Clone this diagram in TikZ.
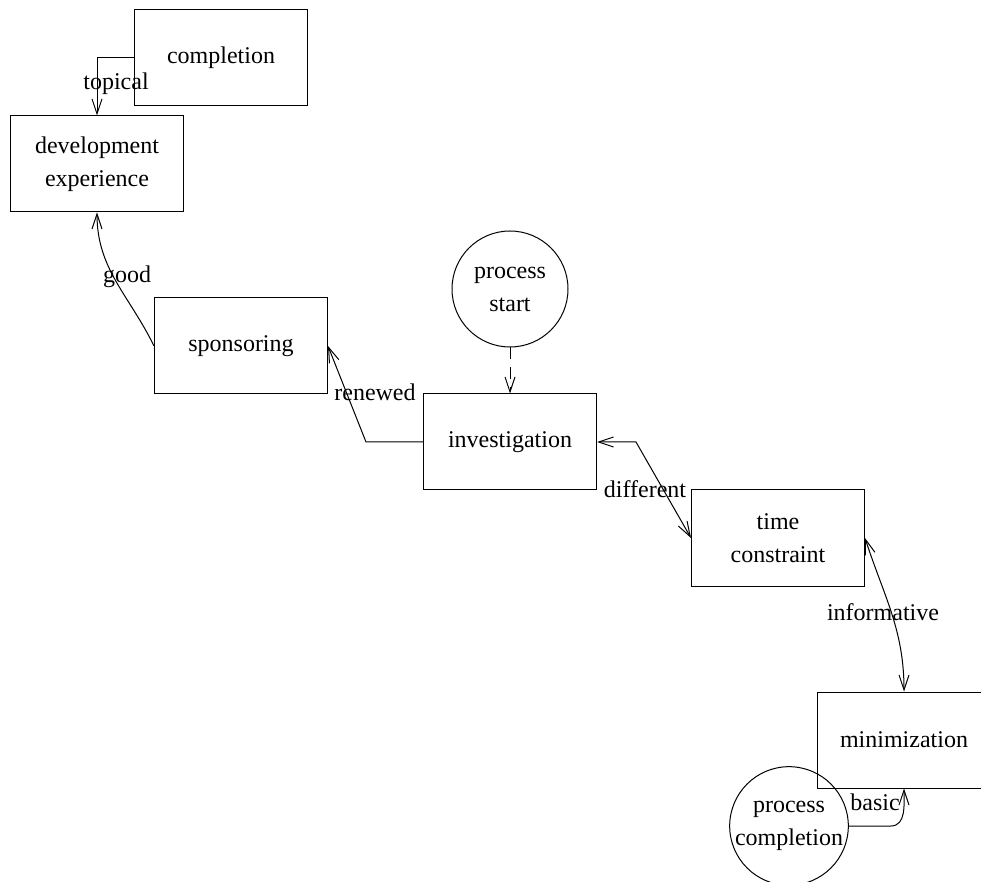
\documentclass[tikz,border=0pt]{standalone}
\usepackage{fontspec}
\setmainfont{Liberation Serif}
\usetikzlibrary{arrows.meta}

\begin{document}
\begin{tikzpicture}[x=0.5pt, y=-0.5pt, >={Straight Barb[length=7.5pt, width=5pt]},
  every node/.style={font=\fontsize{12}{16.5}\selectfont},
  box/.style={draw, line width=0.5pt, minimum width=86.5pt, minimum height=48pt, align=center, inner sep=0pt},
  state/.style={draw, circle, line width=0.5pt, minimum size=58pt, align=center, inner sep=0pt},
  link/.style={line width=0.5pt}]
  \useasboundingbox (0,0) rectangle (981,882);
  % Boxes
  \node[box] (completion) at (221,58) {completion};
  \node[box] (devexp) at (97,164) {development\\experience};
  \node[box] (spons) at (241,346) {sponsoring};
  \node[box] (invest) at (510,442) {investigation};
  \node[box] (timec) at (778,538) {time\\constraint};
  \node[box] (minim) at (904,740) {minimization};
  % Start and end
  \node[state] (pstart) at (510,289) {process\\start};
  \node[state] (pcompl) at (789,826) {process\\completion};
  % Connectors
  \draw[link, ->] (completion.west) -| (devexp.north);
  \node (ltopical) at (116,84) {topical};
  \draw[link, ->] (spons.west) to[out=116, in=-90] (devexp.south);
  \node (lgood) at (127,277) {good};
  \draw[link, ->] (invest.west) -- ++(-57,0) -- (spons.east);
  \node (lrenewed) at (375,392) {renewed};
  \draw[link, ->, dash pattern=on 6pt off 4pt] (pstart.south) -- (invest.north);
  \draw[link, <->] (invest.east) -- ++(39,0) -- (timec.west);
  \node (ldifferent) at (645,489) {different};
  \draw[link, <->] (timec.east) to[out=-72, in=90] (minim.north);
  \node (linformative) at (883,612) {informative};
  \draw[link, ->] (pcompl.east) -- ++(42,0) to[out=0, in=-90] (minim.south);
  \node (lbasic) at (875,802) {basic};
\end{tikzpicture}
\end{document}
